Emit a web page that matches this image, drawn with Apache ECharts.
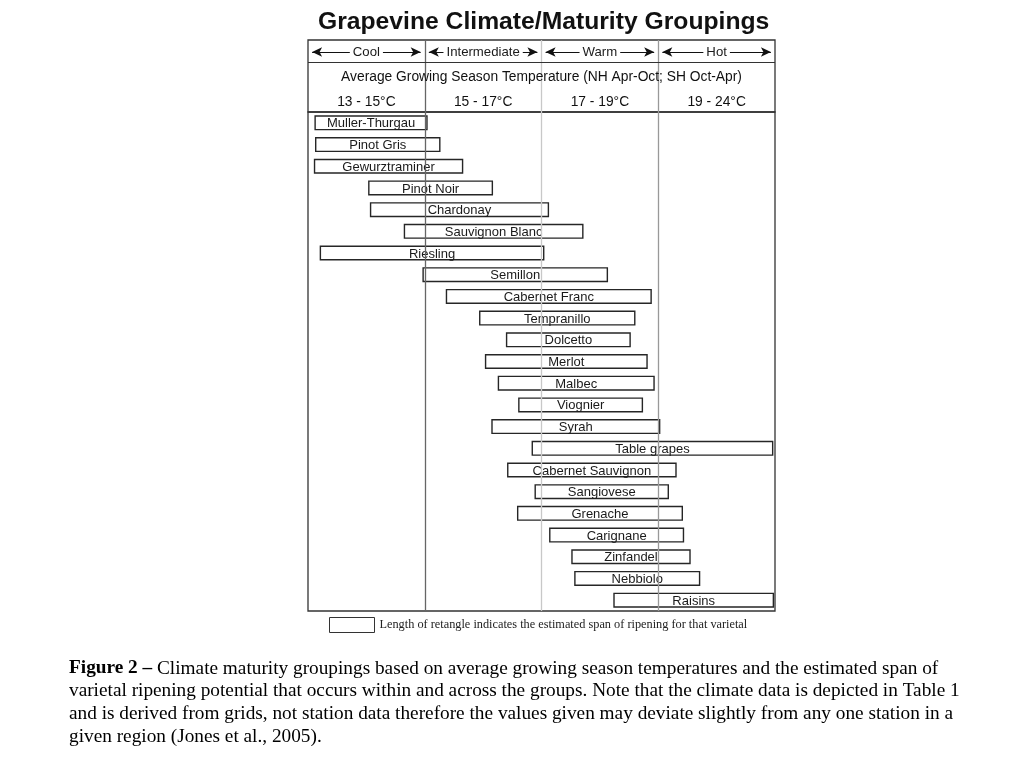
<!DOCTYPE html>
<html>
<head>
<meta charset="utf-8">
<script src="https://cdn.jsdelivr.net/npm/echarts@6/dist/echarts.min.js"></script>
<style>html,body{margin:0;padding:0;background:#fff}#c{width:1024px;height:768px}</style>
</head>
<body>
<div id="c"></div>
<script>
// ---- data ----
const titleText = 'Grapevine Climate/Maturity Groupings';
const groups = ['Cool', 'Intermediate', 'Warm', 'Hot'];
const rangeLabels = ['13 - 15\u00b0C', '15 - 17\u00b0C', '17 - 19\u00b0C', '19 - 24\u00b0C'];
const subTitle = 'Average Growing Season Temperature (NH Apr-Oct; SH Oct-Apr)';
const groupBounds = [13, 15, 17, 19, 24]; // °C boundaries of the four equal-width columns
const varietals = ['Muller-Thurgau', 'Pinot Gris', 'Gewurztraminer', 'Pinot Noir', 'Chardonay',
  'Sauvignon Blanc', 'Riesling', 'Semillon', 'Cabernet Franc', 'Tempranillo', 'Dolcetto', 'Merlot',
  'Malbec', 'Viognier', 'Syrah', 'Table grapes', 'Cabernet Sauvignon', 'Sangiovese', 'Grenache',
  'Carignane', 'Zinfandel', 'Nebbiolo', 'Raisins'];
const ripenStart = [13.11, 13.12, 13.10, 14.03, 14.06, 14.64, 13.20, 14.96, 15.36, 15.93, 16.39, 16.03,
  16.25, 16.60, 16.14, 16.83, 16.41, 16.88, 16.58, 17.13, 17.51, 17.56, 18.23];
const ripenEnd = [15.05, 15.27, 15.66, 16.17, 17.13, 17.72, 17.05, 18.14, 18.89, 18.61, 18.53, 18.82,
  18.94, 18.74, 19.09, 23.93, 19.79, 19.46, 20.06, 20.11, 20.39, 20.80, 23.96];
const legendText = 'Length of retangle indicates the estimated span of ripening for that varietal';
const captionLines = [
  ['Figure 2 \u2013', ' Climate maturity groupings based on average growing season temperatures and the estimated span of'],
  ['', 'varietal ripening potential that occurs within and across the groups. Note that the climate data is depicted in Table 1'],
  ['', 'and is derived from grids, not station data therefore the values given may deviate slightly from any one station in a'],
  ['', 'given region (Jones et al., 2005).']
];

// map °C onto the column axis (each climate group is one column wide)
function tempToPos(t) {
  for (let i = 0; i < 4; i++) {
    if (t <= groupBounds[i + 1] || i === 3) {
      return i + (t - groupBounds[i]) / (groupBounds[i + 1] - groupBounds[i]);
    }
  }
}
const startPos = ripenStart.map(tempToPos);
const spanPos = ripenEnd.map((e, i) => tempToPos(e) - startPos[i]);

const sans = '"Liberation Sans", Arial, Helvetica, sans-serif';
const serif = '"Liberation Serif", "Times New Roman", serif';
const dividerColors = ['#666666', '#c8c8c8', '#999999'];

const chart = echarts.init(document.getElementById('c'));
const option = {
  backgroundColor: '#fff',
  animation: false,
  title: {
    text: titleText, left: 313, top: 5,
    textStyle: { fontFamily: sans, fontSize: 24.7, fontWeight: 'bold', color: '#111' }
  },
  legend: {
    data: [legendText], left: 329, top: 617, padding: 0, itemWidth: 45, itemHeight: 15, itemGap: 6,
    icon: 'rect', selectedMode: false,
    itemStyle: { color: '#fff', borderColor: '#333', borderWidth: 1 },
    textStyle: { fontFamily: serif, fontSize: 12.3, color: '#222' }
  },
  grid: [
    { left: 308, top: 40, width: 467, height: 72, show: true, borderColor: '#333', borderWidth: 1.3, backgroundColor: 'transparent' },
    { left: 308, top: 112, width: 467, height: 499, show: true, borderColor: '#333', borderWidth: 1.3, backgroundColor: 'transparent' }
  ],
  xAxis: [
    { gridIndex: 0, type: 'value', min: 0, max: 4, interval: 1, show: false },
    { gridIndex: 1, type: 'value', min: 0, max: 4, interval: 1, show: false }
  ],
  yAxis: [
    { gridIndex: 0, type: 'value', min: 0, max: 3, inverse: true, show: false },
    { gridIndex: 1, type: 'category', data: varietals, inverse: true, show: false }
  ],
  series: [
    // header: column dividers, row rule and arrows
    {
      type: 'scatter', xAxisIndex: 0, yAxisIndex: 0, symbolSize: 0, data: [], z: 1, silent: true,
      markLine: {
        silent: true, animation: false, symbol: ['none', 'none'], label: { show: false },
        data: [
          ...dividerColors.map((c, i) => ({ xAxis: i + 1, lineStyle: { color: c, width: 1.3, type: 'solid' } })),
          { yAxis: 0.917, lineStyle: { color: '#333', width: 1.2, type: 'solid' } },
          ...groups.map((g, i) => [
            { coord: [i + 0.035, 0.5], symbol: 'arrow', symbolSize: [7, 10] },
            { coord: [i + 0.965, 0.5], symbol: 'arrow', symbolSize: [7, 10] }
          ]).map(p => p.map(d => Object.assign(d, { lineStyle: { color: '#111', width: 1.2, type: 'solid', opacity: 1 } })))
        ]
      }
    },
    // header: group names
    {
      type: 'scatter', xAxisIndex: 0, yAxisIndex: 0, symbolSize: 0, z: 5, silent: true,
      itemStyle: { opacity: 1 },
      data: groups.map((g, i) => ({ value: [i + 0.5, 0.5], name: g })),
      label: {
        show: true, position: 'inside', formatter: '{b}', fontFamily: sans, fontSize: 13.2, color: '#1a1a1a',
        backgroundColor: '#fff', padding: [1, 3]
      }
    },
    // header: subtitle
    {
      type: 'scatter', xAxisIndex: 0, yAxisIndex: 0, symbolSize: 0, z: 5, silent: true,
      itemStyle: { opacity: 1 },
      data: [{ value: [2, 1.54], name: subTitle }],
      label: { show: true, position: 'inside', formatter: '{b}', fontFamily: sans, fontSize: 13.8, color: '#111' }
    },
    // header: temperature ranges
    {
      type: 'scatter', xAxisIndex: 0, yAxisIndex: 0, symbolSize: 0, z: 5, silent: true,
      itemStyle: { opacity: 1 },
      data: rangeLabels.map((r, i) => ({ value: [i + 0.5, 2.58], name: r })),
      label: { show: true, position: 'inside', formatter: '{b}', fontFamily: sans, fontSize: 13.8, color: '#111' }
    },
    // bars: invisible offset
    {
      type: 'bar', xAxisIndex: 1, yAxisIndex: 1, stack: 'r', data: startPos, barWidth: 15, silent: true,
      itemStyle: { color: 'rgba(0,0,0,0)' }
    },
    // bars: ripening span
    {
      name: legendText, type: 'bar', xAxisIndex: 1, yAxisIndex: 1, stack: 'r', data: spanPos, barWidth: 15,
      itemStyle: { color: 'rgba(255,255,255,0)', borderColor: '#262626', borderWidth: 1.4 },
      label: { show: true, position: 'inside', formatter: '{b}', offset: [0, 1], fontFamily: sans, fontSize: 13, color: '#1a1a1a' },
      markLine: {
        silent: true, animation: false, symbol: ['none', 'none'], label: { show: false },
        data: dividerColors.map((c, i) => ({ xAxis: i + 1, lineStyle: { color: c, width: 1.3, type: 'solid' } }))
      }
    }
  ],
  graphic: [
    {
      type: 'text', left: 69, top: 659,
      style: {
        text: captionLines.map(l => (l[0] ? '{b|' + l[0] + '}' : '') + '{n|' + l[1] + '}').join('\n'),
        rich: {
          b: { fontFamily: serif, fontSize: 19.3, fontWeight: 'bold', fill: '#000', lineHeight: 22.7 },
          n: { fontFamily: serif, fontSize: 19.3, fill: '#000', lineHeight: 22.7 }
        }
      }
    }
  ]
};
chart.setOption(option);
</script>
</body>
</html>
